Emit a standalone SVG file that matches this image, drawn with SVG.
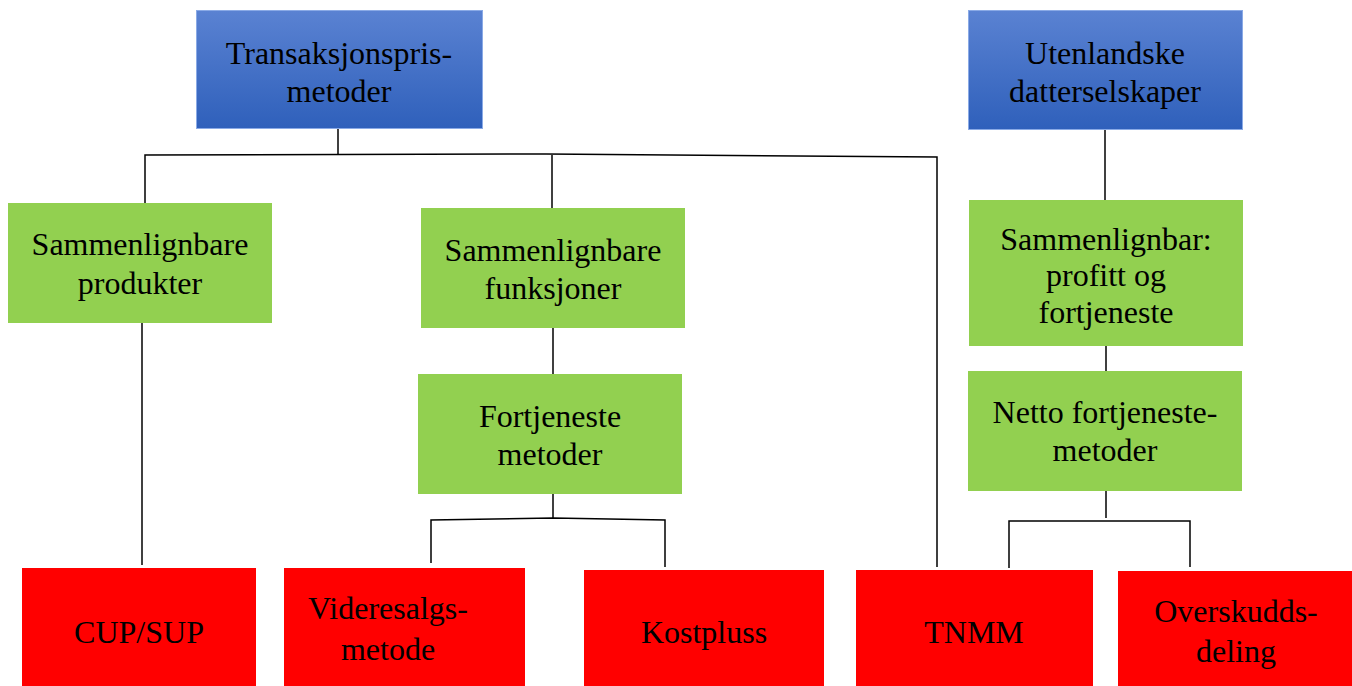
<svg xmlns="http://www.w3.org/2000/svg" width="1352" height="686" viewBox="0 0 1352 686">
<defs>
<linearGradient id="blueGrad" x1="0" y1="0" x2="0" y2="1">
<stop offset="0" stop-color="#5a82d2"/>
<stop offset="1" stop-color="#2f60bb"/>
</linearGradient>
<style>
.blue{fill:url(#blueGrad);stroke:#8aaae6;stroke-width:1}
.green{fill:#92d050}
.red{fill:#ff0000}
.t{font-family:"Liberation Serif","Times New Roman",serif;font-size:32px;fill:#000;text-anchor:middle}
.c{stroke:#000;stroke-width:1.5;fill:none}
</style>
</defs>
<g id="connectors">
<polyline class="c" points="338,129 338,155"/>
<polyline class="c" points="145,203 145,155 546,154 937,157 937,567"/>
<polyline class="c" points="552,155 552,208"/>
<polyline class="c" points="142,323 142,565"/>
<polyline class="c" points="553,328 553,374"/>
<polyline class="c" points="553,494 553,518"/>
<polyline class="c" points="431,563 431,520 553,518 665,520 665,567"/>
<polyline class="c" points="1105,130 1105,200"/>
<polyline class="c" points="1106,346 1106,371"/>
<polyline class="c" points="1106,491 1106,518"/>
<polyline class="c" points="1009,568 1009,521 1190,521 1190,567"/>
</g>
<g id="n-transaksjon">
<rect class="blue" x="196.5" y="10.5" width="286" height="118"/>
<text class="t" x="339" y="64">Transaksjonspris-</text>
<text class="t" x="339" y="102">metoder</text>
</g>
<g id="n-utenlandske">
<rect class="blue" x="968.5" y="10.5" width="274" height="119"/>
<text class="t" x="1105" y="64">Utenlandske</text>
<text class="t" x="1105" y="102">datterselskaper</text>
</g>
<g id="n-produkter">
<rect class="green" x="8" y="203" width="264" height="120"/>
<text class="t" x="140" y="255">Sammenlignbare</text>
<text class="t" x="140" y="294">produkter</text>
</g>
<g id="n-funksjoner">
<rect class="green" x="421" y="208" width="264" height="120"/>
<text class="t" x="553" y="261">Sammenlignbare</text>
<text class="t" x="553" y="299">funksjoner</text>
</g>
<g id="n-fortjeneste">
<rect class="green" x="418" y="374" width="264" height="120"/>
<text class="t" x="550" y="427">Fortjeneste</text>
<text class="t" x="550" y="465">metoder</text>
</g>
<g id="n-profitt">
<rect class="green" x="969" y="200" width="274" height="146"/>
<text class="t" x="1106" y="250">Sammenlignbar:</text>
<text class="t" x="1106" y="286">profitt og</text>
<text class="t" x="1106" y="323">fortjeneste</text>
</g>
<g id="n-netto">
<rect class="green" x="968" y="371" width="274" height="120"/>
<text class="t" x="1105" y="423">Netto fortjeneste-</text>
<text class="t" x="1105" y="461">metoder</text>
</g>
<g id="n-cup">
<rect class="red" x="22" y="568" width="234" height="118"/>
<text class="t" x="139" y="643">CUP/SUP</text>
</g>
<g id="n-videresalg">
<rect class="red" x="284" y="568" width="241" height="118"/>
<text class="t" x="388" y="619">Videresalgs-</text>
<text class="t" x="388" y="660">metode</text>
</g>
<g id="n-kostpluss">
<rect class="red" x="584" y="570" width="240" height="116"/>
<text class="t" x="704" y="643">Kostpluss</text>
</g>
<g id="n-tnmm">
<rect class="red" x="856" y="570" width="237" height="116"/>
<text class="t" x="974" y="643">TNMM</text>
</g>
<g id="n-overskudd">
<rect class="red" x="1118" y="571" width="234" height="115"/>
<text class="t" x="1236" y="622">Overskudds-</text>
<text class="t" x="1236" y="662">deling</text>
</g>
</svg>
